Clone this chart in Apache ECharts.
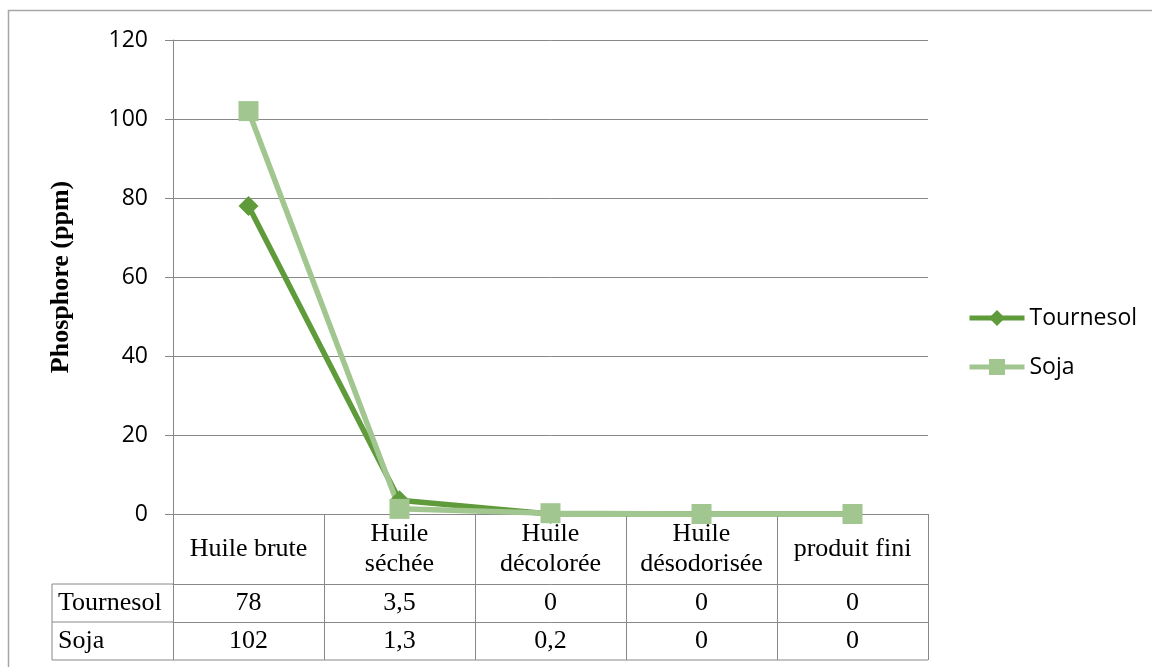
<!DOCTYPE html>
<html>
<head>
<meta charset="utf-8">
<script src="https://cdn.jsdelivr.net/npm/echarts@6/dist/echarts.min.js"></script>
<style>html,body{margin:0;padding:0;background:#fff}#c{width:1152px;height:667px}</style>
</head>
<body>
<div id="c"></div>
<script>
const categories = ['Huile brute', 'Huile\nséchée', 'Huile\ndécolorée', 'Huile\ndésodorisée', 'produit fini'];
const tournesol = [78, 3.5, 0, 0, 0];
const soja = [102, 1.3, 0.2, 0, 0];
const seriesNames = ['Tournesol', 'Soja'];
const yTicks = { min: 0, max: 120, interval: 20 };
const yTitle = 'Phosphore (ppm)';

const fmt = v => String(v).replace('.', ',');
const GRAY = '#888';
const SERIF = '"Liberation Serif", "Times New Roman", serif';
const SANS = '"Open Sans", sans-serif';

const L = 173, R = 928, T = 40, B = 514;
const row1 = 70, row2 = 38, row3 = 38, leftCol = 52;

const chart = echarts.init(document.getElementById('c'), null, { renderer: 'canvas' });

const tableAxis = (data, offset, len) => ({
  type: 'category', data: data, position: 'bottom', offset: offset,
  axisLine: { show: true, lineStyle: { color: GRAY, width: 1 } },
  axisTick: { show: true, length: len, lineStyle: { color: GRAY, width: 1 } },
  axisLabel: { interval: 0, margin: len / 2, verticalAlign: 'middle', fontFamily: SERIF, fontSize: 26, color: '#000' },
  splitLine: { show: false }
});

chart.setOption({
  animation: false,
  backgroundColor: '#fff',
  grid: { left: L, top: T, width: R - L, height: B - T, containLabel: false },
  legend: {
    orient: 'vertical', left: 962, top: 298, padding: 5,
    itemWidth: 55, itemHeight: 20, itemGap: 19,
    lineStyle: { width: 5 },
    textStyle: { fontFamily: SANS, fontSize: 23, color: '#000', lineHeight: 30, padding: [0, 0, 0, 0] },
    data: seriesNames
  },
  xAxis: [
    {
      type: 'category', data: categories,
      axisLine: { show: true, lineStyle: { color: GRAY, width: 1 } },
      axisTick: { show: true, length: row1, lineStyle: { color: GRAY, width: 1 } },
      axisLabel: { interval: 0, margin: row1 / 2, verticalAlign: 'middle', lineHeight: 30, fontFamily: SERIF, fontSize: 26, color: '#000' },
      splitLine: { show: false }
    },
    tableAxis(tournesol.map(fmt), row1, row2),
    tableAxis(soja.map(fmt), row1 + row2, row3)
  ],
  yAxis: {
    type: 'value', min: yTicks.min, max: yTicks.max, interval: yTicks.interval,
    name: yTitle, nameLocation: 'middle', nameGap: 99,
    nameTextStyle: { fontFamily: SERIF, fontWeight: 'bold', fontSize: 26, color: '#000' },
    axisLine: { show: true, lineStyle: { color: GRAY, width: 1 } },
    axisTick: { show: true, length: 8, lineStyle: { color: GRAY } },
    axisLabel: { margin: 25, fontFamily: SANS, fontSize: 23, color: '#000' },
    splitLine: { show: true, lineStyle: { color: GRAY, width: 1 } }
  },
  series: [
    {
      name: seriesNames[0], type: 'line', data: tournesol, xAxisIndex: 0,
      symbol: 'diamond', symbolSize: 20, showAllSymbol: true,
      lineStyle: { color: '#5f9a3b', width: 5.5 }, itemStyle: { color: '#5f9a3b' }
    },
    {
      name: seriesNames[1], type: 'line', data: soja, xAxisIndex: 0,
      symbol: 'rect', symbolSize: 20, showAllSymbol: true,
      lineStyle: { color: '#a2c68f', width: 5.5 }, itemStyle: { color: '#a2c68f' }
    }
  ],
  graphic: [
    { type: 'rect', shape: { x: 8.5, y: 10.5, width: 1300, height: 800 }, style: { fill: 'none', stroke: '#a6a6a6', lineWidth: 1.5 }, silent: true },
    { type: 'line', shape: { x1: leftCol, y1: B + row1, x2: L, y2: B + row1 }, style: { stroke: GRAY, lineWidth: 1 } },
    { type: 'line', shape: { x1: leftCol, y1: B + row1 + row2, x2: L, y2: B + row1 + row2 }, style: { stroke: GRAY, lineWidth: 1 } },
    { type: 'line', shape: { x1: leftCol, y1: B + row1 + row2 + row3, x2: R, y2: B + row1 + row2 + row3 }, style: { stroke: GRAY, lineWidth: 1 } },
    { type: 'line', shape: { x1: leftCol, y1: B + row1, x2: leftCol, y2: B + row1 + row2 + row3 }, style: { stroke: GRAY, lineWidth: 1 } },
    { type: 'text', x: leftCol + 6, y: B + row1 + row2 / 2, style: { text: seriesNames[0], font: '26px ' + SERIF, fill: '#000', verticalAlign: 'middle', align: 'left' } },
    { type: 'text', x: leftCol + 6, y: B + row1 + row2 + row3 / 2, style: { text: seriesNames[1], font: '26px ' + SERIF, fill: '#000', verticalAlign: 'middle', align: 'left' } }
  ]
});
</script>
</body>
</html>
